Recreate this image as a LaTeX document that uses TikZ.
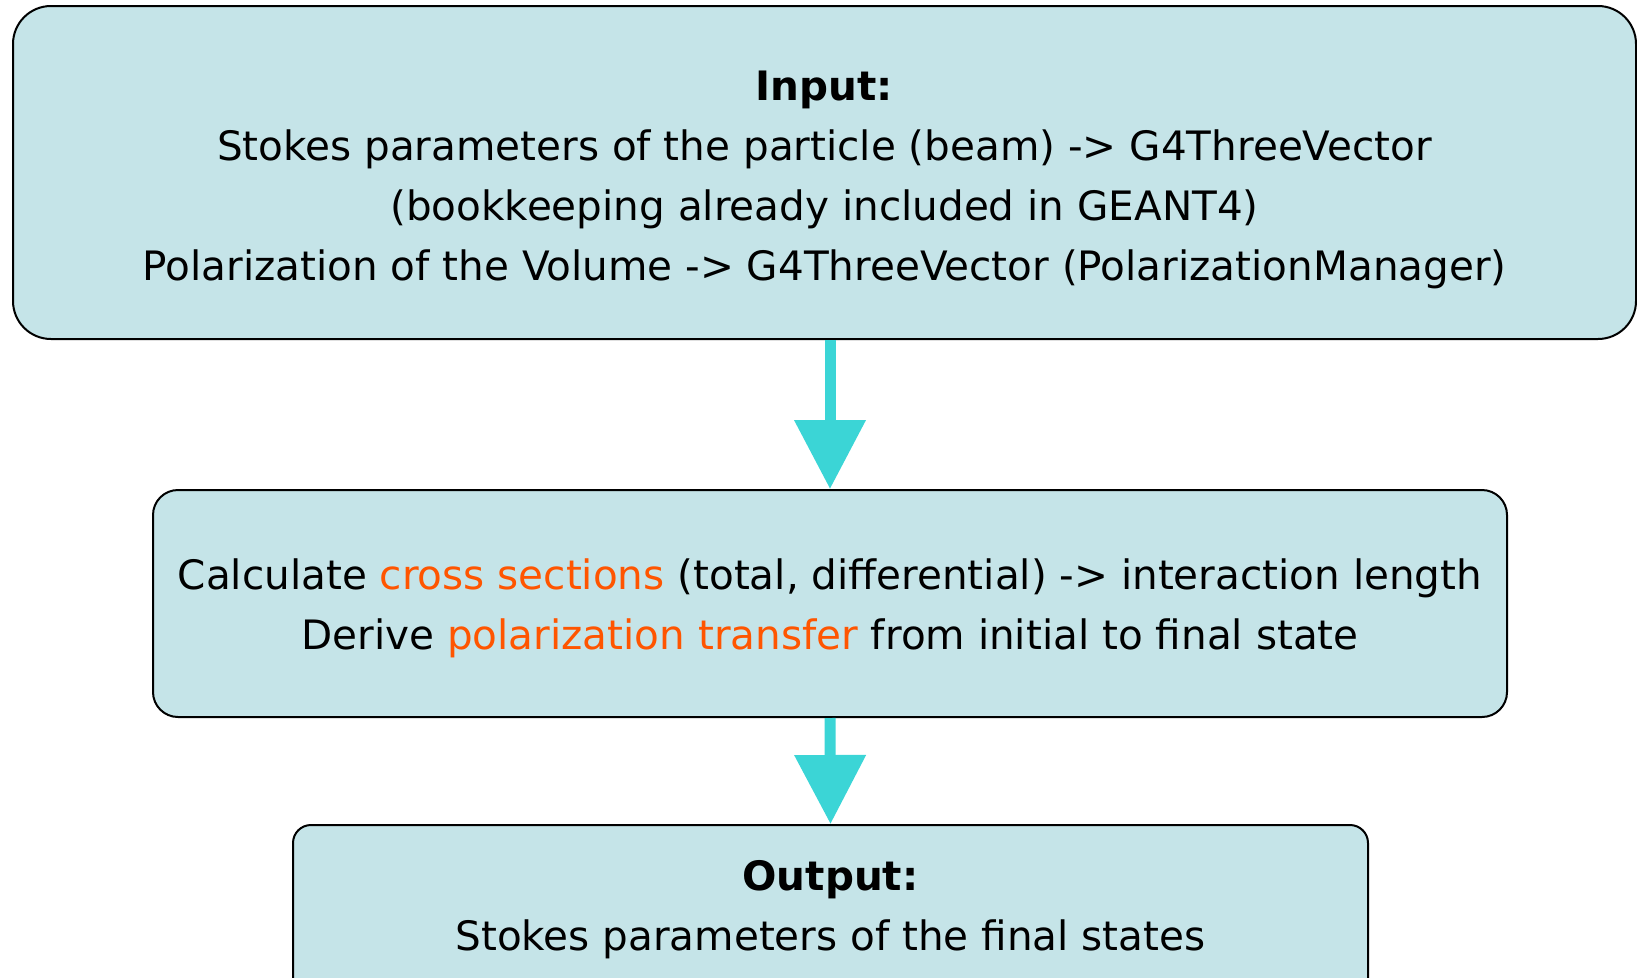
\documentclass[tikz,border=0pt]{standalone}
\usepackage{fontspec}
\setmainfont{DejaVu Sans}
\usetikzlibrary{arrows.meta}
\definecolor{boxfill}{RGB}{197,228,232}
\definecolor{arrowcyan}{RGB}{59,213,214}
\definecolor{hl}{RGB}{255,85,0}
\begin{document}
\begin{tikzpicture}[x=1pt,y=-1pt,
  flowbox/.style={draw=black, line width=2pt, fill=boxfill, align=center, inner sep=0pt,
    font=\fontsize{40.5}{60}\selectfont},
  flowarrow/.style={draw=arrowcyan, line width=11pt, -{Triangle[width=69pt,length=69pt]}}]
\useasboundingbox (0,0) rectangle (1637,977);
\clip (0,0) rectangle (1637,977);
\node[flowbox, rounded corners=38pt, minimum width=1623pt, minimum height=333pt] (inbox) at (824.5,172.5)
  {\rule{0pt}{44pt}\textbf{Input:}\\
   Stokes parameters of the particle (beam) -{}> G4ThreeVector\\
   (bookkeeping already included in GEANT4)\\
   Polarization of the Volume -{}> G4ThreeVector (PolarizationManager)};
\node[flowbox, rounded corners=25pt, minimum width=1354pt, minimum height=227pt] (calc) at (830,603.5)
  {\rule{0pt}{40pt}Calculate \textcolor{hl}{cross sections} (total, differential) -{}> interaction length\\
   Derive \textcolor{hl}{polarization transfer} from initial to final state};
\node[flowbox, rounded corners=18pt, minimum width=1075pt, inner ysep=35pt, anchor=north] (outbox) at (830.5,824)
  {\textbf{Output:}\\
   Stokes parameters of the final states\rule[-80pt]{0pt}{0pt}};
\draw[flowarrow] (calc.north |- inbox.south) -- (calc.north);
\draw[flowarrow] (calc.south) -- (outbox.north);
\end{tikzpicture}
\end{document}
